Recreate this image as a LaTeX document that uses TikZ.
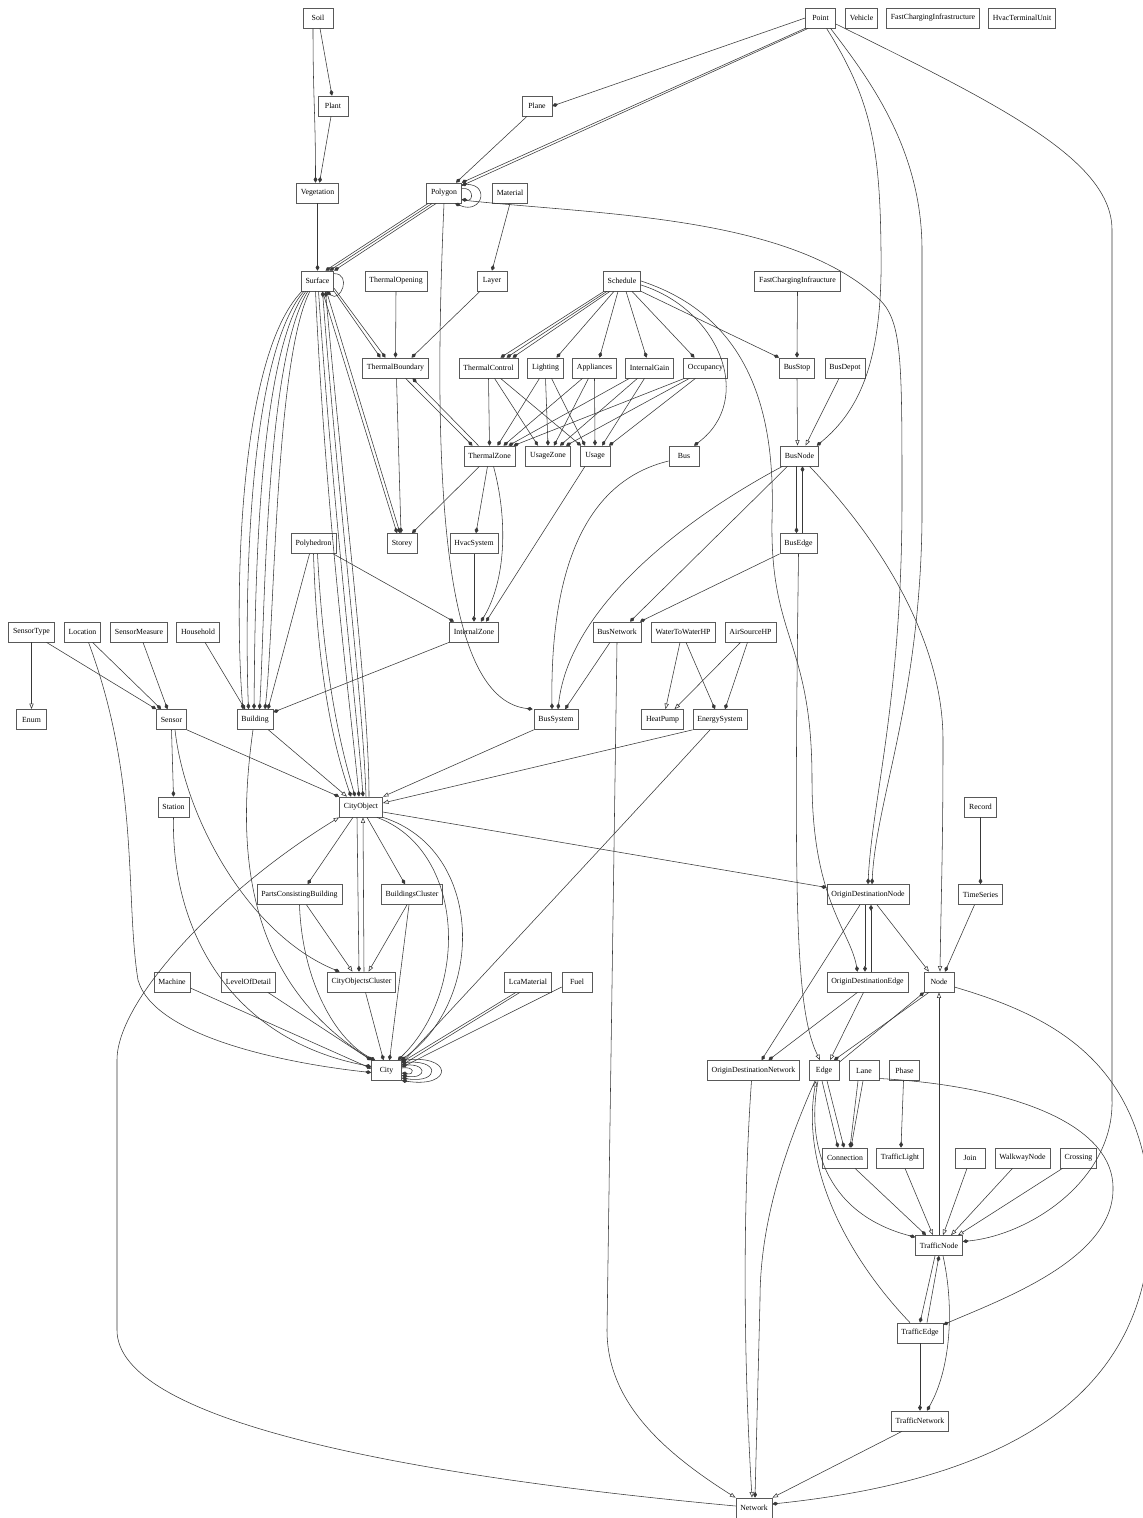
\documentclass[tikz,border=0pt]{standalone}
\usepackage{fontspec}
\setmainfont{Liberation Serif}
\usetikzlibrary{arrows.meta}
\tikzset{
  cls/.style={draw=black!65, line width=0.7pt, fill=white, minimum width=30pt,
              minimum height=20pt, inner xsep=4.4pt, inner ysep=0pt,
              font=\fontsize{7.8}{9}\selectfont},
  link/.style={draw=black!78, line width=0.55pt},
  comp/.style={link, -{Diamond[length=6pt,width=3.8pt]}},
  inh/.style={link, -{Triangle[open,length=5.6pt,width=4.2pt]}},
}
\begin{document}
\begin{tikzpicture}[x=1pt,y=-1pt]
  \useasboundingbox (0,0) rectangle (1143,1518);
  \fill[white] (0,0) rectangle (1143,1518);

  % classes, row by row
  \node[cls] (soil)    at (318,18)    {Soil};
  \node[cls] (point)   at (820.5,18)  {Point};
  \node[cls] (vehicle) at (861.5,18)  {Vehicle};
  \node[cls] (fastCI)  at (933,18)    {FastChargingInfrastructure};
  \node[cls] (hvacTU)  at (1022,18)   {HvacTerminalUnit};

  \node[cls] (plant) at (333,106) {Plant};
  \node[cls] (plane) at (537,106) {Plane};

  \node[cls] (vegetation) at (317.5,193) {Vegetation};
  \node[cls] (polygon)    at (444,193)   {Polygon};
  \node[cls] (material)   at (510,193)   {Material};

  \node[cls] (surface)        at (317.5,281) {Surface};
  \node[cls] (thermalOpening) at (396,281)   {ThermalOpening};
  \node[cls] (layer)          at (492,281)   {Layer};
  \node[cls] (schedule)       at (622,281)   {Schedule};
  \node[cls] (fastCIu)        at (797.5,281) {FastChargingInfraucture};

  \node[cls] (thermalBoundary) at (395.5,368) {ThermalBoundary};
  \node[cls] (thermalControl)  at (488.5,368) {ThermalControl};
  \node[cls] (lighting)        at (545.5,368) {Lighting};
  \node[cls] (appliances)      at (594.5,368) {Appliances};
  \node[cls] (internalGain)    at (649.5,368) {InternalGain};
  \node[cls] (occupancy)       at (705.5,368) {Occupancy};
  \node[cls] (busStop)         at (797,368)   {BusStop};
  \node[cls] (busDepot)        at (845,368)   {BusDepot};

  \node[cls] (thermalZone) at (489.5,456) {ThermalZone};
  \node[cls] (usageZone)   at (548,456)   {UsageZone};
  \node[cls] (usage)       at (595,456)   {Usage};
  \node[cls] (bus)         at (684,456)   {Bus};
  \node[cls] (busNode)     at (799.5,456) {BusNode};

  \node[cls] (polyhedron) at (313.5,543.5) {Polyhedron};
  \node[cls] (storey)     at (402,543.5)   {Storey};
  \node[cls] (hvacSystem) at (474,543.5)   {HvacSystem};
  \node[cls] (busEdge)    at (798.5,543.5) {BusEdge};

  \node[cls] (sensorType)     at (31.5,632)  {SensorType};
  \node[cls] (location)       at (82.5,632)  {Location};
  \node[cls] (sensorMeasure)  at (139,632)   {SensorMeasure};
  \node[cls] (household)      at (198,632)   {Household};
  \node[cls] (internalZone)   at (474,632)   {InternalZone};
  \node[cls] (busNetwork)     at (617,632)   {BusNetwork};
  \node[cls] (waterToWaterHP) at (683,632)   {WaterToWaterHP};
  \node[cls] (airSourceHP)    at (750.5,632) {AirSourceHP};

  \node[cls] (enum)         at (31.5,719.5)  {Enum};
  \node[cls] (sensor)       at (171.5,719.5) {Sensor};
  \node[cls] (building)     at (255,719.5)   {Building};
  \node[cls] (busSystem)    at (556,719.5)   {BusSystem};
  \node[cls] (heatPump)     at (662.5,719.5) {HeatPump};
  \node[cls] (energySystem) at (720,719.5)   {EnergySystem};

  \node[cls] (station)    at (173.5,807) {Station};
  \node[cls] (cityObject) at (361,807)   {CityObject};
  \node[cls] (record)     at (980.5,807) {Record};

  \node[cls] (partsCB)          at (299.5,894.5) {PartsConsistingBuilding};
  \node[cls] (buildingsCluster) at (412,894.5)   {BuildingsCluster};
  \node[cls] (odNode)           at (868,894.5)   {OriginDestinationNode};
  \node[cls] (timeSeries)       at (980.5,894.5) {TimeSeries};

  \node[cls] (machine)            at (172,982)   {Machine};
  \node[cls] (levelOfDetail)      at (248.5,982) {LevelOfDetail};
  \node[cls] (cityObjectsCluster) at (361.5,982) {CityObjectsCluster};
  \node[cls] (lcaMaterial)        at (528,982)   {LcaMaterial};
  \node[cls] (fuel)               at (577,982)   {Fuel};
  \node[cls] (odEdge)             at (867.5,982) {OriginDestinationEdge};
  \node[cls] (node)               at (939,982)   {Node};

  \node[cls] (city)      at (386.5,1070.5) {City};
  \node[cls] (odNetwork) at (753.5,1070.5) {OriginDestinationNetwork};
  \node[cls] (edge)      at (824,1070.5)   {Edge};
  \node[cls] (lane)      at (864,1070.5)   {Lane};
  \node[cls] (phase)     at (904.5,1070.5) {Phase};

  \node[cls] (connection)   at (845,1158)    {Connection};
  \node[cls] (trafficLight) at (900,1158)    {TrafficLight};
  \node[cls] (join)         at (970,1158)    {Join};
  \node[cls] (walkwayNode)  at (1022.5,1158) {WalkwayNode};
  \node[cls] (crossing)     at (1078.5,1158) {Crossing};

  \node[cls] (trafficNode)    at (939,1245.5) {TrafficNode};
  \node[cls] (trafficEdge)    at (920,1333)   {TrafficEdge};
  \node[cls] (trafficNetwork) at (920,1421)   {TrafficNetwork};
  \node[cls] (network)        at (754,1508)   {Network};

  % soil, vegetation
  \draw[comp] ([xshift=-5pt]soil.south) .. controls +(0,70) and +(0,-70) .. ([xshift=-2pt]vegetation.north);
  \draw[comp] ([xshift=2pt]soil.south) -- ([xshift=-1pt]plant.north);
  \draw[comp] ([xshift=-2pt]plant.south) -- ([xshift=2pt]vegetation.north);
  \draw[comp] (vegetation.south) -- (surface.north);

  % point
  \draw[comp] (point.west) -- (plane.east);
  \draw[comp] (point.south west) -- (polygon.north east);
  \draw[comp] ([xshift=3pt]point.south west) -- ([yshift=-3pt]polygon.north east);
  \draw[comp] ([xshift=6pt]point.south) .. controls (872,100) and (880,150) .. (881,250)
    .. controls (883,360) and (860,410) .. ([xshift=-2pt]busNode.north east);
  \draw[comp] ([xshift=10pt]point.south) .. controls (870,80) and (922,150) .. (922,250) -- (922,520)
    .. controls (920,700) and (876,800) .. ([xshift=4pt]odNode.north);
  \draw[comp] ([yshift=-6pt]point.east) .. controls (1000,105) and (1112,160) .. (1112,230) -- (1112,1100)
    .. controls (1114,1180) and (1030,1235) .. ([yshift=4pt]trafficNode.east);

  % polygon
  \draw[comp] ([xshift=-10pt]plane.south) -- ([xshift=12pt]polygon.north);
  \draw[comp] ([yshift=-2pt]polygon.north east) .. controls +(30,-4) and +(28,12) .. ([xshift=11pt]polygon.south);
  \draw[comp] ([yshift=-6pt]polygon.north east) .. controls +(12,-2) and +(12,2) .. ([yshift=4pt]polygon.south east);
  \draw[comp] ([xshift=2pt]polygon.south west) -- ([xshift=8pt]surface.north);
  \draw[comp] ([xshift=6pt]polygon.south west) -- ([xshift=12pt]surface.north);
  \draw[comp] ([xshift=10pt]polygon.south west) -- (surface.north east);
  \draw[comp] (polygon.south) .. controls (430,520) and (450,700) .. ([xshift=-1pt]busSystem.north west);
  \draw[comp] ([yshift=-7pt]polygon.east) .. controls (600,215) and (790,215) .. (880,300)
    .. controls (902,322) and (902,360) .. (902,500) .. controls (902,700) and (872,800) .. (odNode.north);

  % material, layer, thermal boundary
  \draw[comp] (material.south) -- (layer.north);
  \draw[comp] (thermalOpening.south) -- (thermalBoundary.north);
  \draw[comp] ([xshift=-12pt]layer.south) -- ([xshift=16pt]thermalBoundary.north);

  % surface
  \draw[comp] ([yshift=-3pt]surface.north east) .. controls +(18,0) and +(14,12) .. ([xshift=9pt]surface.south);
  \foreach \i in {0,...,4}
    \draw[comp] ([xshift=1pt+2pt*\i]surface.south west) .. controls (235+10*\i,360) and (235+10*\i,620)
      .. ([xshift=-12pt+5.5pt*\i]building.north);
  \draw[comp] ([xshift=-2pt]surface.south) .. controls (326,520) and (352,720) .. ([xshift=-2pt]cityObject.north);
  \draw[comp] ([xshift=1pt]surface.south) .. controls (334,520) and (358,720) .. ([xshift=2pt]cityObject.north);
  \draw[comp] ([xshift=5pt]cityObject.north) .. controls (363,700) and (340,520) .. ([xshift=5pt]surface.south);
  \draw[comp] ([xshift=8pt]cityObject.north) .. controls (369,700) and (346,520) .. ([xshift=8pt]surface.south);
  \draw[comp] ([xshift=5pt]surface.south) -- ([xshift=-5pt]storey.north);
  \draw[comp] ([xshift=9pt]surface.south) -- ([xshift=-2pt]storey.north);
  \draw[comp] (surface.south east) -- ([xshift=-15pt]thermalBoundary.north);
  \draw[comp] ([yshift=3pt]surface.south east) -- ([xshift=-10pt]thermalBoundary.north);
  \draw[comp] ([xshift=1pt]thermalBoundary.south) -- ([xshift=-1pt]storey.north);
  \draw[comp] ([xshift=10pt]thermalBoundary.south) -- ([xshift=-17pt]thermalZone.north);
  \draw[comp] ([xshift=-11pt]thermalZone.north) -- ([xshift=17pt]thermalBoundary.south);

  % schedule
  \foreach \k in {0,1,2}
    \draw[comp] ([xshift=1pt+3pt*\k]schedule.south west) -- ([xshift=12pt+6pt*\k]thermalControl.north);
  \draw[comp] ([xshift=-8pt]schedule.south) -- ([xshift=11pt]lighting.north);
  \draw[comp] ([xshift=-4pt]schedule.south) -- ([xshift=5pt]appliances.north);
  \draw[comp] ([xshift=4pt]schedule.south) -- ([xshift=-3pt]internalGain.north);
  \draw[comp] ([xshift=10pt]schedule.south) -- ([xshift=-11pt]occupancy.north);
  \draw[comp] (schedule.south east) -- (busStop.north west);
  \draw[comp] ([yshift=-4pt]schedule.east) .. controls (720,310) and (755,400) .. ([xshift=10pt]bus.north);
  \draw[comp] (schedule.east) .. controls (760,320) and (775,430) .. (772,520)
    .. controls (770,640) and (812,640) .. (812,780) .. controls (812,900) and (850,930) .. ([xshift=-10pt]odEdge.north);

  % zones and usage
  \draw[comp] (thermalControl.south) -- (thermalZone.north);
  \draw[comp] ([xshift=6pt]thermalControl.south) -- ([xshift=-10pt]usageZone.north);
  \draw[comp] ([xshift=12pt]thermalControl.south) -- ([xshift=-14pt]usage.north);
  \draw[comp] ([xshift=-6pt]lighting.south) -- ([xshift=8pt]thermalZone.north);
  \draw[comp] (lighting.south) -- (usageZone.north);
  \draw[comp] ([xshift=6pt]lighting.south) -- ([xshift=-10pt]usage.north);
  \draw[comp] ([xshift=-12pt]appliances.south) -- ([xshift=14pt]thermalZone.north);
  \draw[comp] ([xshift=-6pt]appliances.south) -- ([xshift=6pt]usageZone.north);
  \draw[comp] (appliances.south) -- (usage.north);
  \draw[comp] ([xshift=-20pt]internalGain.south) -- ([xshift=19pt]thermalZone.north);
  \draw[comp] ([xshift=-12pt]internalGain.south) -- ([xshift=12pt]usageZone.north);
  \draw[comp] ([xshift=-5pt]internalGain.south) -- ([xshift=7pt]usage.north);
  \draw[comp] ([xshift=-21pt]occupancy.south) -- ([xshift=24pt]thermalZone.north);
  \draw[comp] ([xshift=-16pt]occupancy.south) -- ([xshift=18pt]usageZone.north);
  \draw[comp] ([xshift=-10pt]occupancy.south) -- ([xshift=14pt]usage.north);
  \draw[comp] ([xshift=-10pt]thermalZone.south) -- ([xshift=10pt]storey.north);
  \draw[comp] ([xshift=-2pt]thermalZone.south) -- ([xshift=2pt]hvacSystem.north);
  \draw[comp] ([xshift=4pt]thermalZone.south) .. controls (508,520) and (506,580) .. ([xshift=7pt]internalZone.north);
  \draw[comp] ([xshift=-10pt]usage.south) -- ([xshift=12pt]internalZone.north);
  \draw[comp] (hvacSystem.south) -- (internalZone.north);

  % polyhedron, building
  \draw[comp] ([xshift=-3pt]polyhedron.south east) -- ([xshift=-20pt]internalZone.north);
  \draw[comp] ([xshift=-4pt]polyhedron.south) -- ([xshift=13pt]building.north);
  \draw[comp] (polyhedron.south) .. controls (318,700) and (342,770) .. ([xshift=-10pt]cityObject.north);
  \draw[comp] ([xshift=4pt]polyhedron.south) .. controls (325,700) and (348,770) .. ([xshift=-6pt]cityObject.north);
  \draw[comp] ([xshift=7pt]household.south) -- ([xshift=-10pt]building.north);
  \draw[comp] (internalZone.south west) -- ([yshift=-3pt]building.north east);
  \draw[inh] ([xshift=-5pt]building.south east) -- ([xshift=-14pt]cityObject.north);
  \draw[comp] ([xshift=-2pt]building.south) .. controls (236,850) and (245,980) .. ([xshift=1pt]city.north west);

  % sensor
  \draw[inh] (sensorType.south) -- (enum.north);
  \draw[comp] ([xshift=15pt]sensorType.south) -- (sensor.north west);
  \draw[comp] ([xshift=10pt]location.south) -- ([xshift=5pt]sensor.north west);
  \draw[comp] ([xshift=4pt]sensorMeasure.south) -- ([xshift=-4pt]sensor.north);
  \draw[comp] (sensor.south) -- (station.north);
  \draw[comp] (sensor.south east) -- (cityObject.north west);
  \draw[comp] ([xshift=3.5pt]sensor.south) .. controls (185,820) and (250,935) .. ([xshift=-22pt]cityObjectsCluster.north);
  \draw[comp] ([xshift=6pt]location.south) .. controls (140,780) and (125,900) .. (138,980)
    .. controls (155,1040) and (300,1065) .. ([yshift=-2pt]city.west);
  \draw[comp] (station.south) .. controls (171,930) and (230,1040) .. ([yshift=4pt]city.west);
  \draw[comp] ([yshift=-6pt]machine.east) -- ([yshift=2pt]city.west);
  \draw[comp] ([xshift=-8pt]levelOfDetail.south east) -- (city.north west);

  % city object
  \draw[comp] ([xshift=-8pt]cityObject.south) -- ([xshift=8pt]partsCB.north);
  \draw[comp] ([xshift=6pt]cityObject.south) -- ([xshift=-7pt]buildingsCluster.north);
  \draw[comp] ([xshift=-4pt]cityObject.south) -- ([xshift=-2.5pt]cityObjectsCluster.north);
  \draw[inh] ([xshift=2.5pt]cityObjectsCluster.north) -- ([xshift=2pt]cityObject.south);
  \draw[comp] ([yshift=-5pt]cityObject.east) -- ([yshift=7pt]odNode.west);
  \draw[comp] ([xshift=-6pt]cityObject.south east) .. controls (465,850) and (470,990) .. ([xshift=-4pt]city.north east);
  \draw[comp] (cityObject.south east) .. controls (485,850) and (485,1000) .. ([xshift=-1pt]city.north east);
  \draw[inh] ([xshift=7pt]partsCB.south) -- ([xshift=-9pt]cityObjectsCluster.north);
  \draw[inh] ([xshift=-5pt]buildingsCluster.south) -- ([xshift=7pt]cityObjectsCluster.north);
  \draw[comp] (partsCB.south) .. controls (302,980) and (335,1040) .. ([xshift=4pt]city.north west);
  \draw[comp] ([xshift=-3pt]buildingsCluster.south) -- ([xshift=3pt]city.north);
  \draw[comp] ([xshift=4pt]cityObjectsCluster.south) -- ([xshift=-3pt]city.north);
  \draw[inh] ([yshift=2pt]network.west) .. controls (400,1475) and (117,1420) .. (117,1330) -- (117,1060)
    .. controls (117,1000) and (220,890) .. (cityObject.south west);

  % city
  \draw[comp] ([xshift=-12pt]lcaMaterial.south) -- ([yshift=-2pt]city.north east);
  \draw[comp] ([xshift=-8pt]lcaMaterial.south) -- ([yshift=-5pt]city.north east);
  \draw[comp] ([yshift=-5pt]fuel.west) -- ([yshift=-7pt]city.north east);
  \foreach \k in {1,...,4}
    \draw[comp] ([yshift=2.5pt*\k]city.east) .. controls +(13*\k,-2*\k) and +(13*\k,2*\k) .. ([yshift=-2.5pt*\k]city.east);

  % energy systems
  \draw[inh] ([xshift=-3pt]waterToWaterHP.south) -- ([xshift=3pt]heatPump.north);
  \draw[comp] ([xshift=3pt]waterToWaterHP.south) -- ([xshift=-5pt]energySystem.north);
  \draw[inh] ([xshift=-10pt]airSourceHP.south) -- ([xshift=12pt]heatPump.north);
  \draw[comp] ([xshift=-3pt]airSourceHP.south) -- ([xshift=5pt]energySystem.north);
  \draw[inh] (energySystem.south west) -- ([yshift=4pt]cityObject.east);
  \draw[comp] ([xshift=-10pt]energySystem.south) .. controls (600,850) and (450,1010) .. ([yshift=-3pt]city.north east);
  \draw[inh] (busSystem.south west) -- (cityObject.north east);

  % bus
  \draw[comp] (fastCIu.south) -- (busStop.north);
  \draw[inh] (busStop.south) -- ([xshift=-2pt]busNode.north);
  \draw[inh] ([xshift=-6pt]busDepot.south) -- ([xshift=6pt]busNode.north);
  \draw[comp] ([xshift=-3pt]busNode.south) -- ([xshift=-2pt]busEdge.north);
  \draw[comp] ([xshift=4pt]busEdge.north) -- ([xshift=3pt]busNode.south);
  \draw[comp] ([xshift=-12pt]busNode.south) -- ([xshift=13pt]busNetwork.north);
  \draw[comp] (busEdge.south west) -- ([xshift=23pt]busNetwork.north);
  \draw[comp] ([xshift=-17pt]busNode.south) .. controls (700,510) and (570,600) .. ([xshift=2pt]busSystem.north);
  \draw[comp] ([yshift=-5pt]bus.west) .. controls (590,480) and (550,560) .. ([xshift=-4pt]busSystem.north);
  \draw[comp] ([xshift=-7pt]busNetwork.south) -- ([xshift=9pt]busSystem.north);
  \draw[inh] ([xshift=10pt]busNode.south) .. controls (880,540) and (943,640) .. (943,740)
    .. controls (943,850) and (941,900) .. ([xshift=1pt]node.north);
  \draw[inh] (busEdge.south) .. controls (794,900) and (795,1010) .. ([xshift=-4pt]edge.north);
  \draw[inh] (busNetwork.south) -- (607,1330) .. controls (607,1400) and (660,1450) .. (network.north west);

  % origin destination
  \draw[comp] ([xshift=-3pt]odNode.south) -- ([xshift=-2.5pt]odEdge.north);
  \draw[comp] ([xshift=3.5pt]odEdge.north) -- ([xshift=3pt]odNode.south);
  \draw[inh] ([xshift=9pt]odNode.south) -- ([xshift=-10pt]node.north);
  \draw[comp] ([xshift=-8pt]odNode.south) -- ([xshift=8pt]odNetwork.north);
  \draw[comp] ([xshift=-10pt]odEdge.south) -- ([xshift=15pt]odNetwork.north);
  \draw[inh] ([xshift=-4pt]odEdge.south) -- ([xshift=6pt]edge.north);
  \draw[comp] (record.south) -- (timeSeries.north);
  \draw[comp] ([xshift=-6pt]timeSeries.south) -- ([xshift=6pt]node.north);

  % node, edge, network
  \draw[comp] ([xshift=-10pt]node.south) -- ([xshift=10pt]edge.north);
  \draw[comp] ([yshift=-2pt]edge.north east) -- ([xshift=-15pt]node.south);
  \draw[inh] (trafficNode.north) -- (node.south);
  \draw[comp] ([yshift=-5pt]node.east) .. controls (1050,1015) and (1140,1060) .. (1150,1200)
    .. controls (1160,1400) and (1000,1480) .. ([yshift=4pt]network.east);
  \draw[comp] ([xshift=-2pt]edge.south) -- ([xshift=-7pt]connection.north);
  \draw[comp] ([xshift=3pt]edge.south) -- ([xshift=-1pt]connection.north);
  \draw[comp] ([xshift=-6pt]lane.south) -- ([xshift=5pt]connection.north);
  \draw[comp] ([xshift=-1pt]lane.south) -- ([xshift=6pt]connection.north);
  \draw[comp] ([xshift=-6pt]edge.south) .. controls (805,1150) and (830,1215) .. ([yshift=-2pt]trafficNode.north west);
  \draw[inh] ([xshift=-10pt]trafficEdge.north) .. controls (850,1260) and (800,1170) .. ([xshift=-8pt]edge.south);
  \draw[comp] ([xshift=-9pt]edge.south) .. controls (780,1160) and (760,1230) .. (760,1300) -- ([xshift=1pt]network.north);
  \draw[inh] ([xshift=-2pt]odNetwork.south) .. controls (743,1200) and (743,1350) .. ([xshift=-2pt]network.north);
  \draw[inh] ([xshift=-18pt]trafficNetwork.south) -- (network.north east);

  % traffic
  \draw[comp] ([yshift=-8pt]lane.east) .. controls (1000,1085) and (1115,1120) .. (1113,1190)
    .. controls (1112,1260) and (1000,1300) .. ([yshift=-2pt]trafficEdge.north east);
  \draw[comp] ([xshift=-1pt]phase.south) -- ([xshift=1pt]trafficLight.north);
  \draw[comp] ([xshift=10pt]connection.south) -- ([xshift=-13pt]trafficNode.north);
  \draw[inh] ([xshift=5pt]trafficLight.south) -- ([xshift=-6pt]trafficNode.north);
  \draw[inh] ([xshift=-3pt]join.south) -- ([xshift=4pt]trafficNode.north);
  \draw[inh] ([xshift=-10pt]walkwayNode.south) -- ([xshift=12pt]trafficNode.north);
  \draw[inh] ([xshift=-16pt]crossing.south) -- ([xshift=19pt]trafficNode.north);
  \draw[comp] ([xshift=-4pt]trafficNode.south) -- (trafficEdge.north);
  \draw[comp] ([xshift=7pt]trafficEdge.north) -- (trafficNode.south);
  \draw[comp] ([xshift=4pt]trafficNode.south) .. controls (955,1310) and (950,1370) .. ([xshift=7pt]trafficNetwork.north);
  \draw[comp] (trafficEdge.south) -- (trafficNetwork.north);
\end{tikzpicture}
\end{document}
